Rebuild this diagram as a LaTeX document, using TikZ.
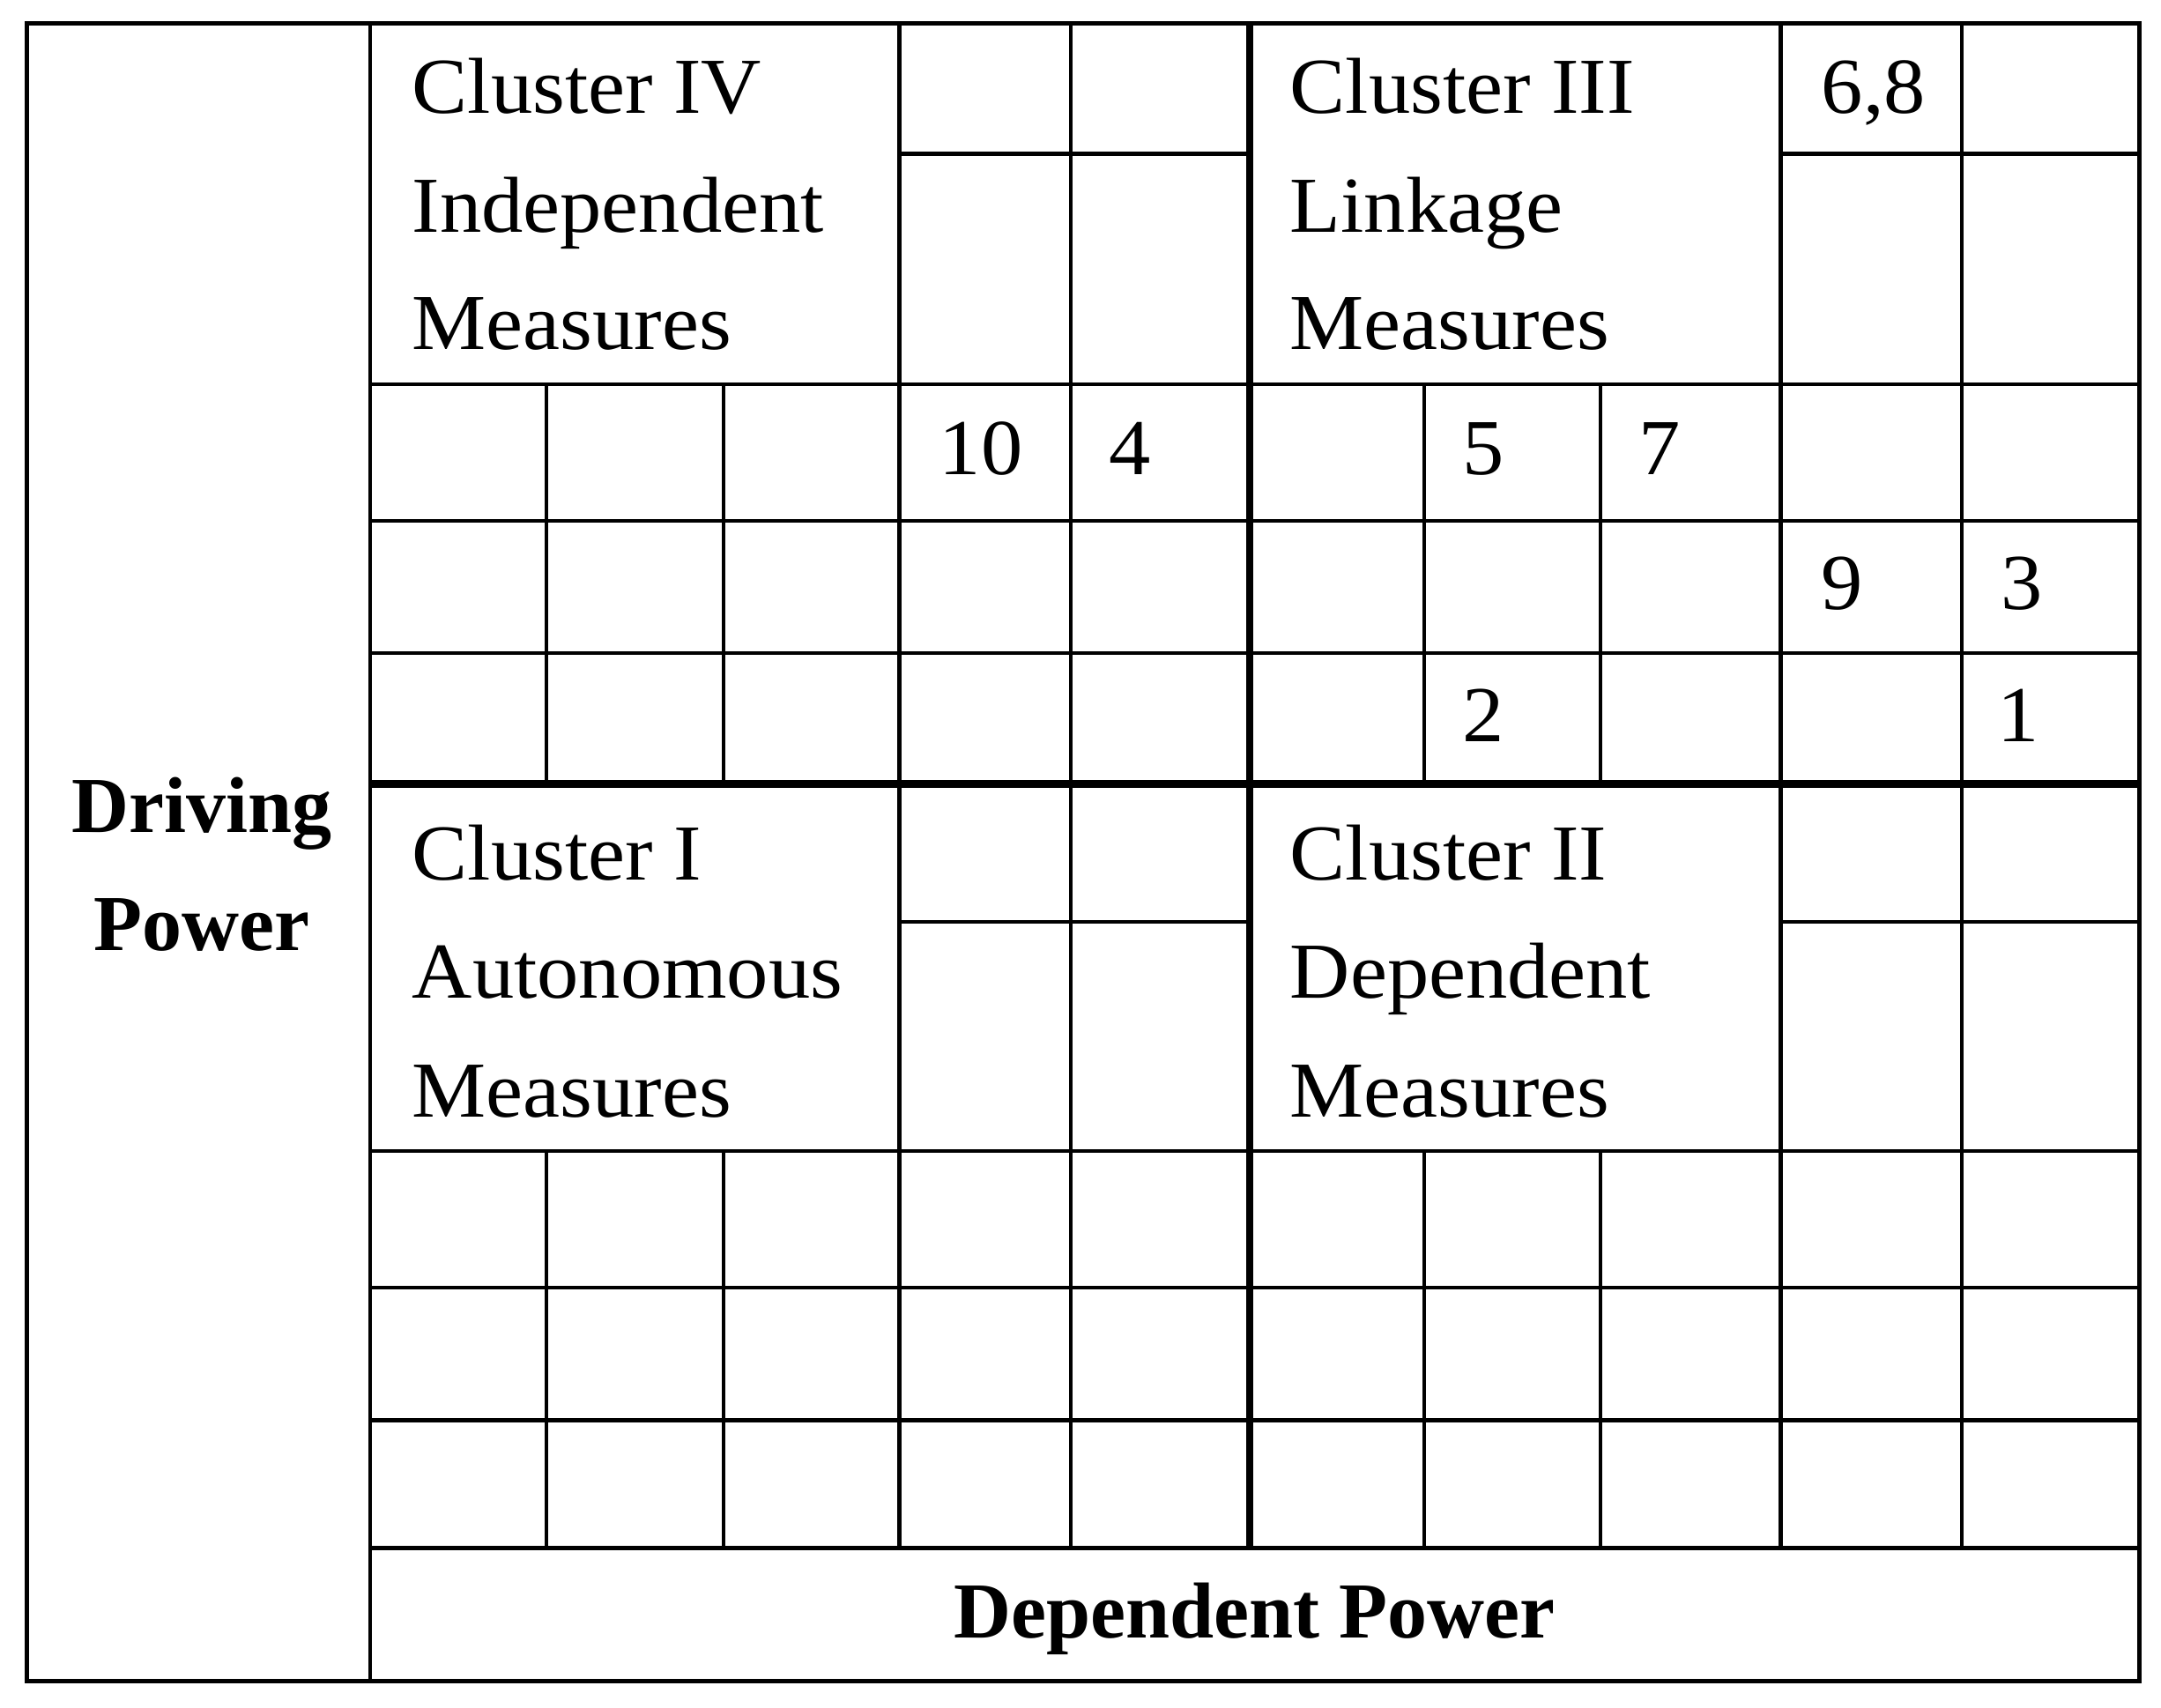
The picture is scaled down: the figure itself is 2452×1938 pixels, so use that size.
\documentclass[tikz,border=0pt]{standalone}
\usepackage{fontspec}
\setmainfont{Liberation Serif}
\newfontfamily\regfont[FakeStretch=1.05]{Liberation Serif}
\tikzset{
  thinline/.style={line width=1.08pt},
  heavyline/.style={line width=2.1pt},
  frameline/.style={line width=1.25pt},
  lbl/.style={anchor=base west, inner sep=0pt, font=\regfont\fontsize{22.5}{27}\selectfont},
  hd/.style={anchor=base, inner sep=0pt, font=\bfseries\fontsize{22.5}{27}\selectfont}
}
\begin{document}
\begin{tikzpicture}[x=0.25pt,y=-0.25pt]
\useasboundingbox (0,0) rectangle (2452,1938);
% thin grid lines
\begin{scope}[thinline]
  \draw (420,26.7) -- (420,1907);
  % full-height verticals
  \foreach \x in {1020.5,1215,2020.5,2226} \draw (\x,26.7) -- (\x,1756.5);
  % verticals only in number rows
  \foreach \x in {620,821,1616,1816} {
    \draw (\x,436) -- (\x,889.5);
    \draw (\x,1306) -- (\x,1756.5);
  }
  % full-width horizontals
  \foreach \y in {436,591,741,1306,1461,1611.5,1756.5} \draw (420,\y) -- (2427,\y);
  % partial horizontals in cluster blocks
  \foreach \y in {174.5,1046} {
    \draw (1020.5,\y) -- (1418,\y);
    \draw (2020.5,\y) -- (2427,\y);
  }
\end{scope}
% thick quadrant dividers
\draw[heavyline] (1418,26.7) -- (1418,1756.5);
\draw[heavyline] (420,889.5) -- (2427,889.5);
% outer frame
\draw[frameline] (30,26.7) rectangle (2427,1907);

% cluster labels
\node[lbl] (c4a) at (467,128) {Cluster IV};
\node[lbl] (c4b) at (467,263) {Independent};
\node[lbl] (c4c) at (467,396) {Measures};
\node[lbl] (c3a) at (1463,128) {Cluster III};
\node[lbl] (c3b) at (1463,263) {Linkage};
\node[lbl] (c3c) at (1463,396) {Measures};
\node[lbl] (c1a) at (467,998) {Cluster I};
\node[lbl] (c1b) at (467,1132) {Autonomous};
\node[lbl] (c1c) at (467,1267) {Measures};
\node[lbl] (c2a) at (1463,998) {Cluster II};
\node[lbl] (c2b) at (1463,1132) {Dependent};
\node[lbl] (c2c) at (1463,1267) {Measures};

% numbers
\node[lbl] (n68) at (2066,128) {6,8};
\node[lbl] (n10) at (1065,538) {10};
\node[lbl] (n4) at (1258,538) {4};
\node[lbl] (n5) at (1659,538) {5};
\node[lbl] (n7) at (1859,538) {7};
\node[lbl] (n9) at (2066,691) {9};
\node[lbl] (n3) at (2270,691) {3};
\node[lbl] (n2) at (1659,841) {2};
\node[lbl] (n1) at (2266,841) {1};

% axis labels
\node[hd] (dp1) at (229,944) {Driving};
\node[hd] (dp2) at (229,1078) {Power};
\node[hd] (dep) at (1423.5,1858) {Dependent Power};
\end{tikzpicture}
\end{document}
